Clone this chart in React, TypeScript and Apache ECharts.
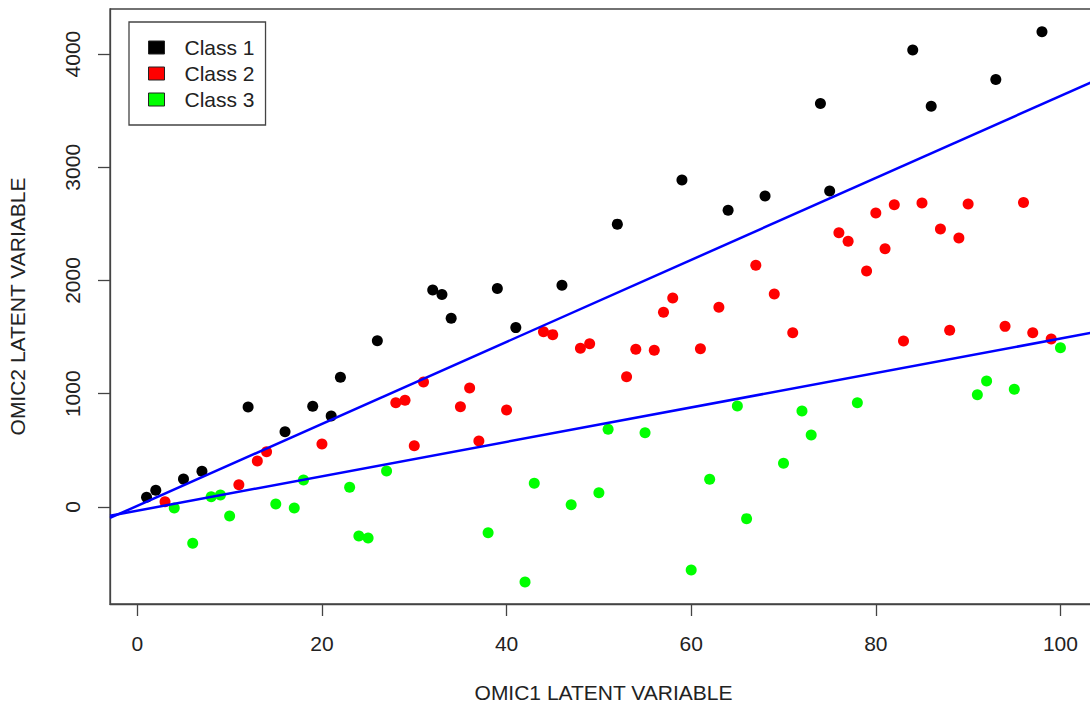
import React, { useEffect, useRef } from "react";
import * as echarts from "echarts";

const class1X = [1, 2, 5, 7, 12, 16, 19, 21, 22, 26, 32, 33, 34, 39, 41, 46, 52, 59, 64, 68, 74, 75, 84, 86, 93, 98];
const class1Y = [85, 147, 246, 316, 883, 664, 889, 804, 1146, 1468, 1916, 1876, 1667, 1930, 1584, 1958, 2498, 2887, 2620, 2746, 3563, 2790, 4036, 3540, 3776, 4198];

const class2X = [3, 11, 13, 14, 20, 28, 29, 30, 31, 35, 36, 37, 40, 44, 45, 48, 49, 53, 54, 56, 57, 58, 61, 63, 67, 69, 71, 76, 77, 79, 80, 81, 82, 83, 85, 87, 88, 89, 90, 94, 96, 97, 99];
const class2Y = [47, 197, 406, 488, 556, 921, 942, 541, 1104, 886, 1051, 583, 857, 1548, 1522, 1401, 1442, 1151, 1393, 1384, 1719, 1845, 1398, 1763, 2134, 1881, 1539, 2422, 2346, 2084, 2596, 2281, 2670, 1466, 2684, 2455, 1560, 2375, 2675, 1595, 2690, 1539, 1483];

const class3X = [4, 6, 8, 9, 10, 15, 17, 18, 23, 24, 25, 27, 38, 42, 43, 47, 50, 51, 55, 60, 62, 65, 66, 70, 72, 73, 78, 91, 92, 95, 100];
const class3Y = [-9, -321, 91, 106, -79, 26, -9, 238, 174, -256, -274, 318, -227, -662, 209, 20, 126, 686, 656, -556, 245, 892, -103, 386, 848, 636, 921, 992, 1113, 1039, 1407];

const classNames = ["Class 1", "Class 2", "Class 3"];
const classColors = ["#000000", "#FF0000", "#00FF00"];

const lineSlopes = [36.2, 15.2];
const lineIntercepts = [10, -33];

const xTicks = [0, 20, 40, 60, 80, 100];
const yTicks = [0, 1000, 2000, 3000, 4000];

const X_MIN = -2.96;
const X_MAX = 103.96;
const Y_MIN = -857;
const Y_MAX = 4398;

const FONT = "'Liberation Sans', Arial, sans-serif";
const AXIS_COLOR = "#444444";
const TEXT_COLOR = "#222222";

function zip(xs: number[], ys: number[]) {
  return xs.map((x, i) => [x, ys[i]]);
}

export default function App() {
  const ref = useRef<HTMLDivElement>(null);

  useEffect(() => {
    if (!ref.current) return;
    const chart = echarts.init(ref.current, null, { renderer: "svg" });

    const scatterSeries = [
      zip(class1X, class1Y),
      zip(class2X, class2Y),
      zip(class3X, class3Y),
    ].map((data, i) => ({
      type: "scatter",
      name: classNames[i],
      data,
      symbol: "circle",
      symbolSize: 11,
      itemStyle: { color: classColors[i], opacity: 1 },
      z: 2,
    }));

    const lineSeries = lineSlopes.map((s, i) => ({
      type: "line",
      name: "fit" + (i + 1),
      data: [
        [X_MIN, lineIntercepts[i] + s * X_MIN],
        [X_MAX, lineIntercepts[i] + s * X_MAX],
      ],
      showSymbol: false,
      symbol: "none",
      lineStyle: { color: "#0000FF", width: 2.5 },
      clip: true,
      z: 3,
    }));

    chart.setOption({
      animation: false,
      backgroundColor: "#ffffff",
      textStyle: { fontFamily: FONT },
      grid: {
        left: 110,
        top: 9,
        width: 987,
        height: 595,
        show: true,
        outerBoundsMode: "none",
        containLabel: false,
        borderColor: AXIS_COLOR,
        borderWidth: 1.3,
        backgroundColor: "transparent",
      },
      legend: {
        data: classNames.map((n, i) => ({
          name: n,
          itemStyle: { color: classColors[i], borderColor: "#222", borderWidth: 1 },
        })),
        orient: "vertical",
        left: 129,
        top: 22,
        icon: "rect",
        itemWidth: 16,
        itemHeight: 13,
        itemGap: 5,
        padding: [15, 11, 15, 19],
        borderColor: AXIS_COLOR,
        borderWidth: 1.3,
        backgroundColor: "#ffffff",
        textStyle: {
          fontFamily: FONT,
          fontSize: 21,
          color: TEXT_COLOR,
          padding: [0, 0, 0, 15],
        },
        selectedMode: false,
      },
      xAxis: {
        type: "value",
        min: X_MIN,
        max: X_MAX,
        name: "OMIC1 LATENT VARIABLE",
        nameLocation: "middle",
        nameGap: 78,
        nameTextStyle: { fontFamily: FONT, fontSize: 21, color: TEXT_COLOR },
        splitLine: { show: false },
        axisLine: { show: true, onZero: false, lineStyle: { color: AXIS_COLOR, width: 1.3 } },
        axisTick: {
          show: true,
          inside: false,
          length: 12,
          customValues: xTicks,
          lineStyle: { color: AXIS_COLOR, width: 1.3 },
        },
        axisLabel: {
          customValues: xTicks,
          formatter: (v: number) => String(v),
          fontFamily: FONT,
          fontSize: 21,
          color: TEXT_COLOR,
          margin: 29,
        },
      },
      yAxis: {
        type: "value",
        min: Y_MIN,
        max: Y_MAX,
        name: "OMIC2 LATENT VARIABLE",
        nameLocation: "middle",
        nameGap: 82,
        nameTextStyle: { fontFamily: FONT, fontSize: 21, color: TEXT_COLOR },
        splitLine: { show: false },
        axisLine: { show: true, onZero: false, lineStyle: { color: AXIS_COLOR, width: 1.3 } },
        axisTick: {
          show: true,
          inside: false,
          length: 12,
          customValues: yTicks,
          lineStyle: { color: AXIS_COLOR, width: 1.3 },
        },
        axisLabel: {
          customValues: yTicks,
          formatter: (v: number) => String(v),
          rotate: 90,
          fontFamily: FONT,
          fontSize: 21,
          color: TEXT_COLOR,
          margin: 27,
        },
      },
      series: [...scatterSeries, ...lineSeries],
    });

    return () => chart.dispose();
  }, []);

  return (
    <div
      ref={ref}
      style={{ position: "fixed", left: 0, top: 0, width: 1090, height: 705, background: "#fff" }}
    />
  );
}
